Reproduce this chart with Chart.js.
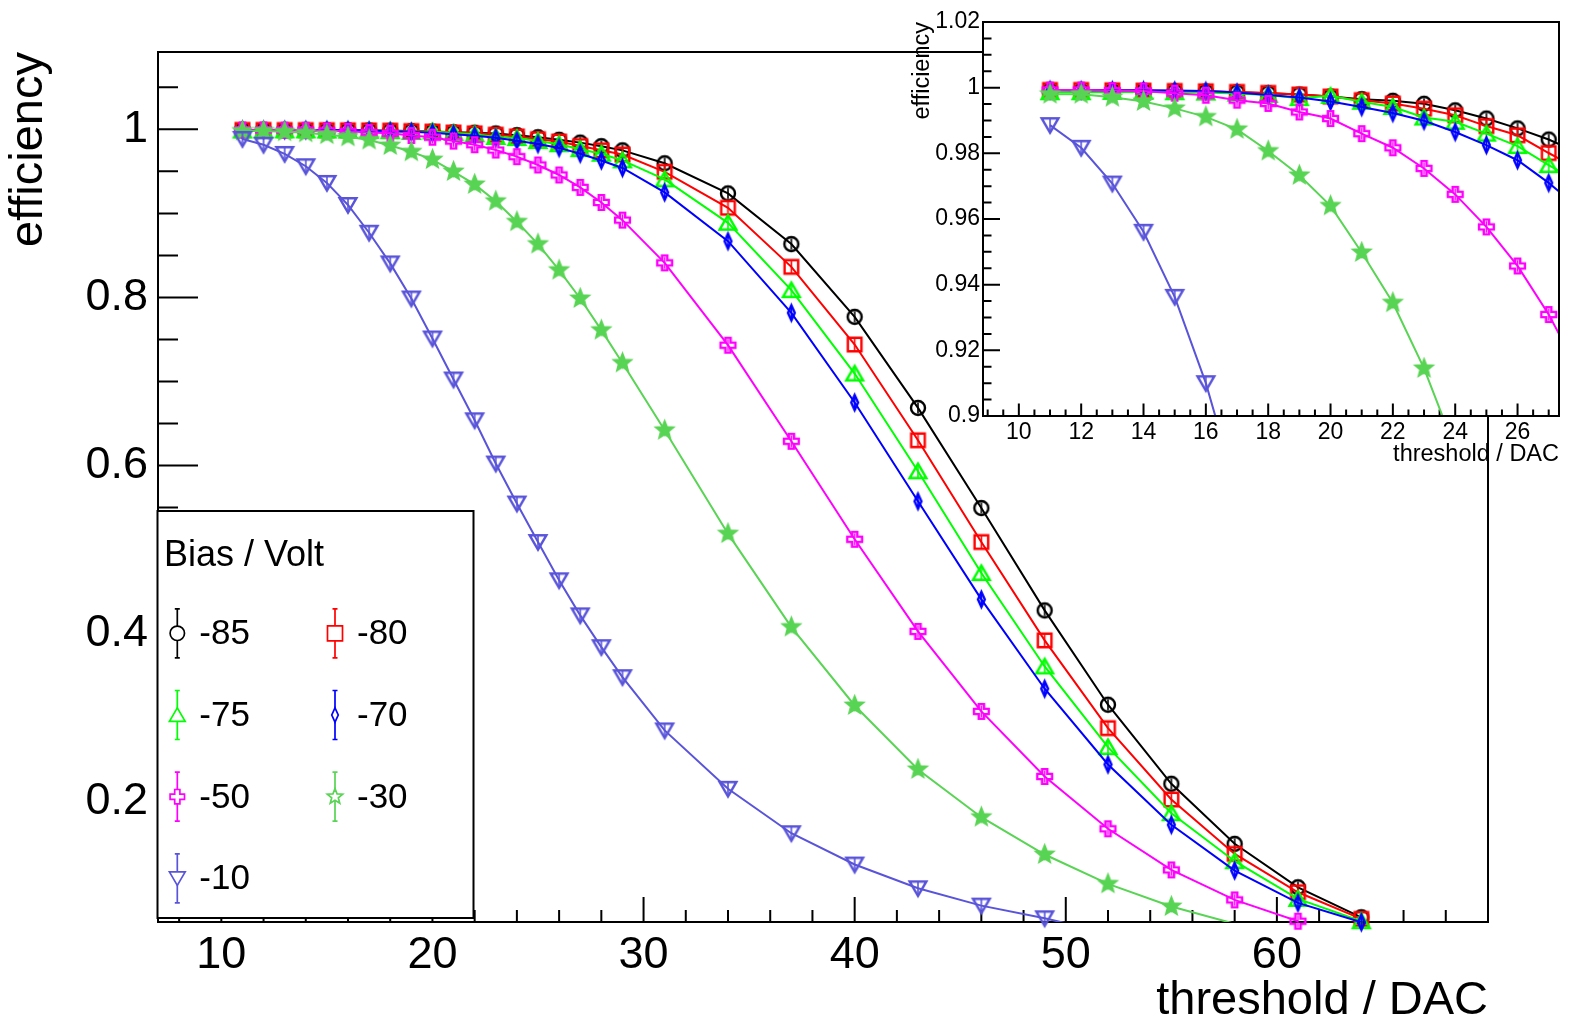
<!DOCTYPE html>
<html>
<head>
<meta charset="utf-8">
<script src="https://cdn.jsdelivr.net/npm/chart.js"></script>
<style>
html,body{margin:0;padding:0;background:#fff;}
#wrap{position:relative;width:1578px;height:1021px;overflow:hidden;background:#fff;}
#main{position:absolute;left:0;top:0;}
#inset{position:absolute;left:880px;top:0;}
</style>
</head>
<body>
<div id="wrap">
<canvas id="main" width="1578" height="1021"></canvas>
<canvas id="inset" width="698" height="480"></canvas>
</div>
<script>
// ---------------- data ----------------
const thresholds = [11,12,13,14,15,16,17,18,19,20,21,22,23,24,25,26,27,28,29,31,34,37,40,43,46,49,52,55,58,61,64];
const biasLabels = ['-85','-80','-75','-70','-50','-30','-10'];
const eff85 = [0.9992,0.9991,0.9990,0.9990,0.9989,0.9988,0.9986,0.9983,0.9979,0.9973,0.9965,0.9960,0.9951,0.9931,0.9906,0.9876,0.9842,0.980,0.975,0.9596,0.9238,0.8635,0.7769,0.6686,0.5495,0.4277,0.3155,0.2214,0.150,0.0983,0.0626];
const eff80 = [0.9993,0.9993,0.9992,0.9991,0.9990,0.9989,0.9987,0.9984,0.9979,0.9973,0.9962,0.9952,0.9936,0.9916,0.9883,0.9855,0.9801,0.975,0.970,0.9495,0.9067,0.8364,0.744,0.6301,0.509,0.392,0.2876,0.2027,0.138,0.0924,0.0607];
const eff75 = [0.9986,0.9986,0.9987,0.9987,0.9986,0.9985,0.9982,0.9978,0.9968,0.9975,0.9957,0.9941,0.9909,0.9896,0.9860,0.9822,0.9764,0.971,0.963,0.9405,0.8888,0.8087,0.7095,0.5932,0.4721,0.361,0.265,0.1864,0.1293,0.0845,0.0579];
const eff70 = [0.9993,0.9992,0.9992,0.9992,0.9991,0.9990,0.9985,0.9978,0.9970,0.9958,0.9941,0.9923,0.9899,0.9865,0.9825,0.9779,0.9710,0.963,0.954,0.925,0.867,0.7817,0.675,0.5575,0.4408,0.3345,0.2444,0.1726,0.1182,0.0798,0.0567];
const eff50 = [0.9993,0.9993,0.9991,0.9990,0.9983,0.9977,0.9962,0.9952,0.9926,0.9906,0.9860,0.9817,0.9754,0.9675,0.9576,0.9457,0.9309,0.913,0.892,0.8412,0.7432,0.6289,0.5123,0.4027,0.3075,0.2301,0.1679,0.119,0.0833,0.0579,null];
const eff30 = [0.9980,0.9980,0.9971,0.9958,0.9937,0.9911,0.9873,0.9807,0.9733,0.9640,0.9498,0.9345,0.9145,0.890,0.8635,0.8325,0.7988,0.7611,0.7221,0.642,0.519,0.4079,0.3146,0.2385,0.1817,0.1373,0.1024,0.0754,0.0549,null,null];
const eff10 = [0.9886,0.9817,0.9708,0.9561,0.9363,0.9100,0.877,0.8405,0.7988,0.7512,0.7024,0.6539,0.6024,0.5548,0.509,0.4635,0.4218,0.384,0.3483,0.2849,0.2155,0.1626,0.1254,0.0971,0.0765,0.0614,0.044,null,null,null,null];

const mainXTicks = [10,20,30,40,50,60];
const mainXTickLabels = ['10','20','30','40','50','60'];
const mainYTicks = [0.2,0.4,0.6,0.8,1.0];
const mainYTickLabels = ['0.2','0.4','0.6','0.8','1'];
const insetXTicks = [10,12,14,16,18,20,22,24,26];
const insetXTickLabels = ['10','12','14','16','18','20','22','24','26'];
const insetYTicks = [0.9,0.92,0.94,0.96,0.98,1.0,1.02];
const insetYTickLabels = ['0.9','0.92','0.94','0.96','0.98','1','1.02'];

const xTitle = 'threshold / DAC';
const yTitle = 'efficiency';
const legendTitle = 'Bias / Volt';

// ---------------- style ----------------
const FONT = "'Liberation Sans', Arial, Helvetica, sans-serif";
Chart.defaults.font.family = FONT;
Chart.defaults.color = '#000';

function markerPath(g, shape, cx, cy, s) {
  g.beginPath();
  if (shape === 'circle') {
    g.arc(cx, cy, s, 0, Math.PI * 2);
  } else if (shape === 'square') {
    g.rect(cx - s, cy - s, 2 * s, 2 * s);
  } else if (shape === 'triUp') {
    g.moveTo(cx, cy - 0.95 * s); g.lineTo(cx + 1.05 * s, cy + 0.85 * s); g.lineTo(cx - 1.05 * s, cy + 0.85 * s); g.closePath();
  } else if (shape === 'triDown') {
    g.moveTo(cx, cy + 0.95 * s); g.lineTo(cx + 1.05 * s, cy - 0.85 * s); g.lineTo(cx - 1.05 * s, cy - 0.85 * s); g.closePath();
  } else if (shape === 'diamond') {
    g.moveTo(cx, cy - 1.1 * s); g.lineTo(cx + 0.5 * s, cy); g.lineTo(cx, cy + 1.1 * s); g.lineTo(cx - 0.5 * s, cy); g.closePath();
  } else if (shape === 'cross') {
    const a = s * 0.36;
    const p = [[-a,-s],[a,-s],[a,-a],[s,-a],[s,a],[a,a],[a,s],[-a,s],[-a,a],[-s,a],[-s,-a],[-a,-a]];
    g.moveTo(cx + p[0][0], cy + p[0][1]);
    for (let k = 1; k < p.length; k++) g.lineTo(cx + p[k][0], cy + p[k][1]);
    g.closePath();
  } else if (shape === 'star') {
    for (let k = 0; k < 10; k++) {
      const r = k % 2 === 0 ? 1.15 * s : 0.5 * s;
      const ang = -Math.PI / 2 + k * Math.PI / 5;
      const px = cx + r * Math.cos(ang), py = cy + r * Math.sin(ang);
      if (k === 0) g.moveTo(px, py); else g.lineTo(px, py);
    }
    g.closePath();
  }
}

function makeMarker(shape, color, s, filled) {
  const size = Math.ceil(s * 2.6 + 5);
  const c = document.createElement('canvas');
  c.width = size; c.height = size;
  const g = c.getContext('2d');
  const m = size / 2;
  g.strokeStyle = color; g.fillStyle = color; g.lineWidth = 2.4; g.lineJoin = 'miter';
  markerPath(g, shape, m, m, s);
  if (filled) g.fill();
  g.stroke();
  g.lineWidth = 1.6;
  g.beginPath(); g.moveTo(m, m - 0.8 * s); g.lineTo(m, m + 0.8 * s); g.stroke();
  return c;
}

const series = [
  { label: biasLabels[0], values: eff85, color: '#000000', shape: 'circle',  s: 7,   ls: 7.2, filled: false },
  { label: biasLabels[1], values: eff80, color: '#ff0000', shape: 'square',  s: 6.8, ls: 7.5, filled: false },
  { label: biasLabels[2], values: eff75, color: '#00ff00', shape: 'triUp',   s: 8,   ls: 7.5, filled: false },
  { label: biasLabels[3], values: eff70, color: '#0000ff', shape: 'diamond', s: 6.8, ls: 6.5, filled: false },
  { label: biasLabels[4], values: eff50, color: '#ff00ff', shape: 'cross',   s: 7.4, ls: 7.2, filled: false },
  { label: biasLabels[5], values: eff30, color: '#59d454', shape: 'star',    s: 7.4, ls: 7,   filled: true },
  { label: biasLabels[6], values: eff10, color: '#5954d9', shape: 'triDown', s: 8,   ls: 7.5, filled: false }
];
series.forEach(sr => { sr.marker = makeMarker(sr.shape, sr.color, sr.s, sr.filled); });
const N = series.length;

function points(values) {
  return thresholds.map((t, k) => ({ x: t, y: values[k] }));
}

// ---------------- helpers ----------------
function drawTicks(chart, cfg) {
  const g = chart.ctx, a = chart.chartArea, xs = chart.scales.x, ys = chart.scales.y;
  const isMajor = (v, arr) => arr.some(m => Math.abs(m - v) < 1e-7);
  g.save();
  g.strokeStyle = '#000'; g.lineWidth = cfg.lw; g.lineCap = 'butt';
  g.beginPath();
  for (let i = 0; ; i++) {
    const v = cfg.xStart + i * cfg.xStep;
    if (v > xs.max + 1e-9) break;
    if (v < xs.min - 1e-9) continue;
    const px = xs.getPixelForValue(v);
    const len = isMajor(v, cfg.xMajor) ? cfg.xMajorLen : cfg.xMinorLen;
    g.moveTo(px, a.bottom); g.lineTo(px, a.bottom - len);
  }
  for (let i = 0; ; i++) {
    const v = cfg.yStart + i * cfg.yStep;
    if (v > ys.max + 1e-9) break;
    if (v < ys.min - 1e-9) continue;
    const py = ys.getPixelForValue(v);
    const len = isMajor(v, cfg.yMajor) ? cfg.yMajorLen : cfg.yMinorLen;
    g.moveTo(a.left, py); g.lineTo(a.left + len, py);
  }
  g.stroke();
  g.restore();
}
function drawFrame(chart, lw) {
  const g = chart.ctx, a = chart.chartArea;
  g.save(); g.strokeStyle = '#000'; g.lineWidth = lw;
  g.strokeRect(a.left, a.top, a.right - a.left, a.bottom - a.top);
  g.restore();
}

const LEG = { x: 157.5, y: 511, w: 316, h: 407, colX: [177.3, 335], rowY: [633.3, 715, 796.7, 878.3], textDX: 22, bar: 24.5 };
function drawLegend(chart) {
  const g = chart.ctx;
  g.save();
  g.fillStyle = '#fff'; g.fillRect(LEG.x, LEG.y, LEG.w, LEG.h);
  g.strokeStyle = '#000'; g.lineWidth = 2; g.strokeRect(LEG.x, LEG.y, LEG.w, LEG.h);
  g.fillStyle = '#000'; g.font = '36px ' + FONT; g.textAlign = 'left'; g.textBaseline = 'alphabetic';
  g.fillText(legendTitle, LEG.x + 6.5, 566);
  series.forEach((sr, i) => {
    const mx = LEG.colX[i % 2], my = LEG.rowY[Math.floor(i / 2)];
    g.strokeStyle = sr.color; g.lineWidth = 1.7;
    g.beginPath();
    g.moveTo(mx, my - LEG.bar); g.lineTo(mx, my + LEG.bar);
    g.moveTo(mx - 2.5, my - LEG.bar); g.lineTo(mx + 2.5, my - LEG.bar);
    g.moveTo(mx - 2.5, my + LEG.bar); g.lineTo(mx + 2.5, my + LEG.bar);
    g.stroke();
    markerPath(g, sr.shape, mx, my, sr.ls);
    g.fillStyle = '#fff'; g.fill(); g.stroke();
    g.fillStyle = '#000'; g.font = '35px ' + FONT; g.textBaseline = 'middle';
    g.fillText(sr.label, mx + LEG.textDX, my + 1.5);
  });
  g.restore();
}

// ---------------- main chart ----------------
const mainDatasets = [];
series.forEach((sr, i) => {
  mainDatasets.push({
    label: sr.label + ' line', data: points(sr.values), borderColor: sr.color, backgroundColor: sr.color,
    borderWidth: 2, pointRadius: 0, pointHoverRadius: 0, tension: 0, fill: false, order: 2 * (N - i) + 1
  });
  mainDatasets.push({
    label: sr.label, data: points(sr.values), showLine: false, borderColor: sr.color, backgroundColor: sr.color,
    pointStyle: sr.marker, pointRadius: 1, pointHoverRadius: 1, pointBorderWidth: 0, clip: false, order: 2 * (N - i)
  });
});

const mainTickCfg = {
  lw: 2, xStart: 8, xStep: 2, xMajor: mainXTicks, xMajorLen: 25, xMinorLen: 12,
  yStart: 0.1, yStep: 0.05, yMajor: mainYTicks, yMajorLen: 40, yMinorLen: 20
};

new Chart(document.getElementById('main'), {
  type: 'line',
  data: { datasets: mainDatasets },
  options: {
    responsive: false, animation: false, devicePixelRatio: 1,
    events: [],
    layout: { padding: { left: 0, top: 52, right: 90, bottom: 0 } },
    plugins: { legend: { display: false }, tooltip: { enabled: false } },
    scales: {
      x: {
        type: 'linear', min: 7, max: 70, bounds: 'data',
        afterBuildTicks: s => { s.ticks = mainXTicks.map(v => ({ value: v })); },
        afterFit: s => { s.height = 99; },
        grid: { display: false, drawTicks: false }, border: { display: false },
        ticks: { font: { size: 45 }, color: '#000', padding: 7, maxRotation: 0, autoSkip: false,
                 callback: (v, i) => mainXTickLabels[i] },
        title: { display: true, text: xTitle, align: 'end', color: '#000',
                 font: { size: 47, lineHeight: 0.85 }, padding: { top: 0, bottom: 0 } }
      },
      y: {
        type: 'linear', min: 0.057, max: 1.092, bounds: 'data',
        afterBuildTicks: s => { s.ticks = mainYTicks.map(v => ({ value: v })); },
        afterFit: s => { s.width = 158; },
        grid: { display: false, drawTicks: false }, border: { display: false },
        ticks: { font: { size: 45 }, color: '#000', padding: 10, autoSkip: false,
                 callback: (v, i) => mainYTickLabels[i] },
        title: { display: true, text: yTitle, align: 'end', color: '#000',
                 font: { size: 47, lineHeight: 1 }, padding: { top: 5.5, bottom: 0 } }
      }
    }
  },
  plugins: [{
    id: 'rootMain',
    beforeDraw(chart) { const g = chart.ctx; g.save(); g.fillStyle = '#fff'; g.fillRect(0, 0, chart.width, chart.height); g.restore(); },
    beforeDatasetsDraw(chart) { drawTicks(chart, mainTickCfg); drawFrame(chart, 2); },
    afterDraw(chart) { drawLegend(chart); }
  }]
});

// ---------------- inset chart ----------------
const insetDatasets = series.map((sr, i) => ({
  label: sr.label, data: points(sr.values), borderColor: sr.color, backgroundColor: sr.color,
  borderWidth: 2, tension: 0, fill: false, pointStyle: sr.marker, pointRadius: 1, pointHoverRadius: 1,
  pointBorderWidth: 0, order: N - i
}));

const insetTickCfg = {
  lw: 2, xStart: 9, xStep: 0.5, xMajor: insetXTicks, xMajorLen: 12.5, xMinorLen: 6.5,
  yStart: 0.9, yStep: 0.005, yMajor: insetYTicks, yMajorLen: 17, yMinorLen: 8.5
};

new Chart(document.getElementById('inset'), {
  type: 'line',
  data: { datasets: insetDatasets },
  options: {
    responsive: false, animation: false, devicePixelRatio: 1,
    events: [],
    layout: { padding: { left: 0, top: 22, right: 19, bottom: 0 } },
    plugins: { legend: { display: false }, tooltip: { enabled: false } },
    scales: {
      x: {
        type: 'linear', min: 8.85, max: 27.33, bounds: 'data',
        afterBuildTicks: s => { s.ticks = insetXTicks.map(v => ({ value: v })); },
        afterFit: s => { s.height = 64; },
        grid: { display: false, drawTicks: false }, border: { display: false },
        ticks: { font: { size: 23 }, color: '#000', padding: 2.5, maxRotation: 0, autoSkip: false,
                 callback: (v, i) => insetXTickLabels[i] },
        title: { display: true, text: xTitle, align: 'end', color: '#000',
                 font: { size: 23.5, lineHeight: 1 }, padding: { top: 0, bottom: 13.5 } }
      },
      y: {
        type: 'linear', min: 0.9, max: 1.02, bounds: 'data',
        afterBuildTicks: s => { s.ticks = insetYTicks.map(v => ({ value: v })); },
        afterFit: s => { s.width = 103; },
        grid: { display: false, drawTicks: false }, border: { display: false },
        ticks: { font: { size: 23 }, color: '#000', padding: 3, autoSkip: false,
                 callback: (v, i) => insetYTickLabels[i] },
        title: { display: true, text: yTitle, align: 'end', color: '#000',
                 font: { size: 23.5, lineHeight: 1 }, padding: { top: 31, bottom: 0 } }
      }
    }
  },
  plugins: [{
    id: 'rootInset',
    beforeDatasetsDraw(chart) {
      const g = chart.ctx, a = chart.chartArea;
      g.save(); g.fillStyle = '#fff'; g.fillRect(a.left, a.top, a.right - a.left, a.bottom - a.top); g.restore();
      drawTicks(chart, insetTickCfg);
    },
    afterDatasetsDraw(chart) { drawFrame(chart, 2); }
  }]
});
</script>
</body>
</html>
